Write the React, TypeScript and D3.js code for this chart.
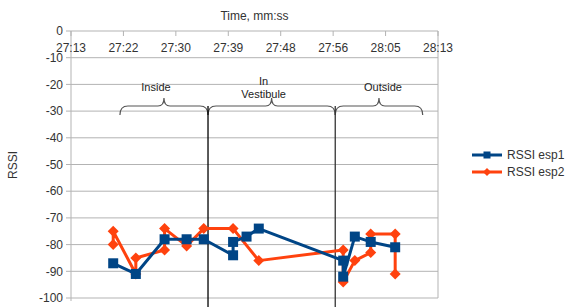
import * as d3 from "d3";

// time in seconds after 27:00
const tickLabels = ["27:13", "27:22", "27:30", "27:39", "27:48", "27:56", "28:05", "28:13"];
const yTicks = [0, -10, -20, -30, -40, -50, -60, -70, -80, -90, -100];

const esp1Time = [19.9, 23.6, 28.3, 31.9, 34.7, 39.5, 39.5, 41.7, 43.7, 57.5, 57.5, 59.4, 62.0, 66.0];
const esp1Rssi = [-87, -91, -78, -78, -78, -84, -79, -77, -74, -86, -92, -77, -79, -81];

const esp2Time = [19.9, 19.9, 23.6, 23.6, 28.3, 28.3, 31.9, 34.7, 39.5, 43.7, 57.5, 57.5, 59.4, 62.0, 62.0, 66.0, 66.0];
const esp2Rssi = [-80, -75, -91, -85, -82, -74, -80.5, -74, -74, -86, -82, -94, -86, -83, -76, -76, -91];

// zones: [start, end, label lines]
const zoneStart = [21.0, 35.4, 56.2];
const zoneEnd = [35.4, 56.2, 70.5];
const zoneLabels = [["Inside"], ["In", "Vestibule"], ["Outside"]];
const zoneLabelShift = [-8, -8, 4];
const zoneDividers = [35.4, 56.2];

const W = 569, H = 307;
const margin = { top: 31, right: 131, bottom: 9, left: 71 };
const BLUE = "#004586";
const ORANGE = "#ff420e";
const FONT = "Liberation Sans, Arial, sans-serif";

export default function App() {
  const x = d3.scaleLinear().domain([13, 73]).range([margin.left, W - margin.right]);
  const y = d3.scaleLinear().domain([-100, 0]).range([H - margin.bottom, margin.top]);
  const xTicks = tickLabels.map((_, i) => 13 + (i * 60) / 7);

  const line = d3.line<[number, number]>()
    .x(d => x(d[0]))
    .y(d => y(d[1]));
  const s1 = esp1Time.map((t, i) => [t, esp1Rssi[i]] as [number, number]);
  const s2 = esp2Time.map((t, i) => [t, esp2Rssi[i]] as [number, number]);

  const diamond = "M0,-5.5L5.5,0L0,5.5L-5.5,0Z";

  // curly brace from x0 to x1, cusp at top
  const brace = (x0: number, x1: number) => {
    const m = (x0 + x1) / 2;
    const yb = 115, yh = 106, yc = 98;
    return `M${x0},${yb} Q${x0},${yh} ${x0 + 8},${yh} L${m - 6},${yh} Q${m},${yh} ${m},${yc} Q${m},${yh} ${m + 6},${yh} L${x1 - 8},${yh} Q${x1},${yh} ${x1},${yb}`;
  };

  const x0 = margin.left, x1 = W - margin.right;
  const y0 = margin.top, y1 = H - margin.bottom;

  return (
    <svg width={W} height={H} style={{ position: "absolute", left: 0, top: 0, background: "#fff" }} fontFamily={FONT}>
      {/* grid */}
      {yTicks.map(v => (
        <g key={v}>
          <line x1={x0} x2={x1} y1={y(v)} y2={y(v)} stroke="#b3b3b3" />
          <line x1={x0 - 5} x2={x0} y1={y(v)} y2={y(v)} stroke="#b3b3b3" />
          <text x={x0 - 8} y={y(v)} dy="0.35em" textAnchor="end" fontSize={12} fill="#333">{v}</text>
        </g>
      ))}
      <line x1={x0} x2={x0} y1={y0} y2={y1 + 3} stroke="#b3b3b3" />
      <line x1={x1} x2={x1} y1={y0} y2={y1} stroke="#b3b3b3" />
      {xTicks.map((t, i) => (
        <g key={i}>
          <line x1={x(t)} x2={x(t)} y1={y0} y2={y0 + 5} stroke="#b3b3b3" />
          <text x={x(t)} y={52} textAnchor="middle" fontSize={12} fill="#333">{tickLabels[i]}</text>
        </g>
      ))}
      <text x={(x0 + x1) / 2} y={20} textAnchor="middle" fontSize={12} fill="#333">Time, mm:ss</text>
      <text transform={`translate(17,165) rotate(-90)`} textAnchor="middle" fontSize={12} fill="#333">RSSI</text>

      {/* zones */}
      {zoneStart.map((s, i) => (
        <g key={i}>
          <path d={brace(x(s), x(zoneEnd[i]))} fill="none" stroke="#555" strokeWidth={1.2} />
          {zoneLabels[i].map((l, j) => (
            <text key={j} x={x((s + zoneEnd[i]) / 2) + zoneLabelShift[i]}
              y={zoneLabels[i].length === 1 ? 91 : 85 + j * 13}
              textAnchor="middle" fontSize={11} fill="#222">{l}</text>
          ))}
        </g>
      ))}
      {zoneDividers.map((d, i) => (
        <line key={i} x1={x(d)} x2={x(d)} y1={106} y2={H} stroke={i === 0 ? "#000" : "#333"} strokeWidth={1.3} />
      ))}

      {/* series */}
      <path d={line(s2) || ""} fill="none" stroke={ORANGE} strokeWidth={3} strokeLinejoin="round" />
      {s2.map((d, i) => (
        <path key={i} d={diamond} transform={`translate(${x(d[0])},${y(d[1])})`} fill={ORANGE} />
      ))}
      <path d={line(s1) || ""} fill="none" stroke={BLUE} strokeWidth={3} strokeLinejoin="round" />
      {s1.map((d, i) => (
        <rect key={i} x={x(d[0]) - 5} y={y(d[1]) - 5} width={10} height={10} fill={BLUE} />
      ))}

      {/* legend */}
      <line x1={472} x2={502} y1={155} y2={155} stroke={BLUE} strokeWidth={3} />
      <rect x={483.5} y={151.5} width={7} height={7} fill={BLUE} />
      <text x={507} y={155} dy="0.35em" fontSize={12} fill="#333">RSSI esp1</text>
      <line x1={472} x2={502} y1={172} y2={172} stroke={ORANGE} strokeWidth={3} />
      <path d="M0,-4L4,0L0,4L-4,0Z" transform="translate(487,172)" fill={ORANGE} />
      <text x={507} y={172} dy="0.35em" fontSize={12} fill="#333">RSSI esp2</text>
    </svg>
  );
}
